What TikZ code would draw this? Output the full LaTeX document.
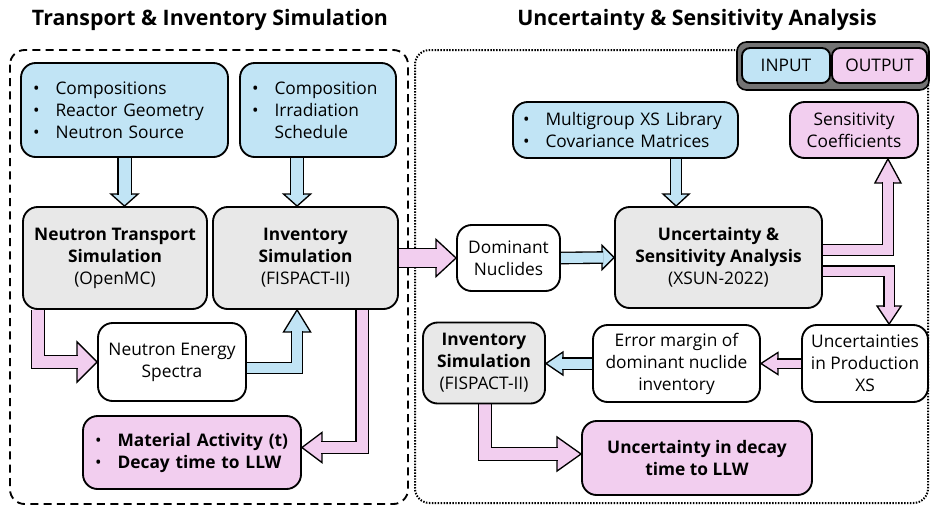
\documentclass[tikz,border=0pt]{standalone}
\usepackage{fontspec}
\setmainfont{Open Sans}
\usetikzlibrary{calc}
\newlength\px \setlength\px{0.75pt}
\definecolor{inblue}{HTML}{C1E4F5}
\definecolor{outpink}{HTML}{F2CEEF}
\definecolor{procgray}{HTML}{E8E8E8}
\definecolor{legendgray}{HTML}{737373}
\pgfdeclarelayer{frames}
\pgfdeclarelayer{arrows}
\pgfsetlayers{frames,arrows,main}
\newcommand\bl{\makebox[1.3em][l]{•}}
\newcommand\nb{\hspace*{1.3em}}
% arrow heads: #1 fill, #2 tip, #3 half width, #4 length
\newcommand\headdown[4]{\filldraw[head,fill=#1] (#2) -- ++(-#3,-#4) -- ++(2*#3,0) -- cycle;}
\newcommand\headup[4]{\filldraw[head,fill=#1] (#2) -- ++(-#3,#4) -- ++(2*#3,0) -- cycle;}
\newcommand\headright[4]{\filldraw[head,fill=#1] (#2) -- ++(-#4,-#3) -- ++(0,2*#3) -- cycle;}
\newcommand\headleft[4]{\filldraw[head,fill=#1] (#2) -- ++(#4,-#3) -- ++(0,2*#3) -- cycle;}
\begin{document}
\begin{tikzpicture}[x=0.75pt,y=-0.75pt,
  box/.style={draw=black, line width=1.4pt, rounded corners=11pt, align=center,
    inner sep=0pt, font=\fontsize{13}{16.5}\selectfont},
  inbox/.style={box, fill=inblue},
  outbox/.style={box, fill=outpink},
  procbox/.style={box, fill=procgray},
  plainbox/.style={box, fill=white},
  listbox/.style={align=left, inner xsep=12\px, text width=#1},
  head/.style={draw=black, line width=1pt, line join=miter},
  shaft/.style 2 args={draw=black, line width=1pt, double=#1, double distance=#2, line join=miter},
  title/.style={font=\bfseries\fontsize{16}{19}\selectfont},
  ]
\useasboundingbox (0,0) rectangle (930,508);

% section titles
\node[title] (t1) at (210,20) {Transport \& Inventory Simulation};
\node[title] (t2) at (697,20) {Uncertainty \& Sensitivity Analysis};

% section frames
\begin{pgfonlayer}{frames}
\draw[line width=1.4pt, dash pattern=on 6pt off 4pt, rounded corners=11pt] (10,50) rectangle (408,504);
\draw[line width=1.5pt, dash pattern=on 1.1pt off 1.1pt, rounded corners=11pt] (415,50) rectangle (928,503);
\end{pgfonlayer}

% legend
\draw[fill=legendgray, draw=black, line width=1.2pt, rounded corners=7pt] (737,42) rectangle (929,90);
\node[inbox, rounded corners=6pt, minimum width=88\px, minimum height=35\px] (lin) at (786,65.5) {INPUT};
\node[outbox, rounded corners=6pt, minimum width=95\px, minimum height=35\px] (lout) at (879.5,65.5) {OUTPUT};

% transport & inventory simulation
\node[inbox, listbox=183\px, minimum width=207\px, minimum height=94\px] (in1) at (124.5,110)
  {\bl Compositions\\ \bl Reactor Geometry\\ \bl Neutron Source};
\node[inbox, listbox=132\px, minimum width=156\px, minimum height=94\px] (in2) at (318,110)
  {\bl Composition\\ \bl Irradiation\\ \nb Schedule};
\node[procbox, minimum width=184\px, minimum height=102\px] (nts) at (115,258)
  {\textbf{Neutron Transport}\\ \textbf{Simulation}\\ (OpenMC)};
\node[procbox, minimum width=185\px, minimum height=102\px] (inv1) at (305.5,258)
  {\textbf{Inventory}\\ \textbf{Simulation}\\ (FISPACT-II)};
\node[plainbox, minimum width=148\px, minimum height=78\px] (nes) at (172,362)
  {Neutron Energy\\ Spectra};
\node[outbox, listbox=194\px, minimum width=218\px, minimum height=73\px] (mat) at (192,452.5)
  {\bl\textbf{Material Activity (t)}\\ \bl\textbf{Decay time to LLW}};

% uncertainty & sensitivity analysis
\node[plainbox, minimum width=103\px, minimum height=66\px] (dn) at (508.5,258)
  {Dominant\\ Nuclides};
\node[inbox, listbox=205\px, inner xsep=10\px, minimum width=225\px, minimum height=56\px] (mg) at (625.5,130)
  {\bl Multigroup XS Library\\ \bl Covariance Matrices};
\node[outbox, minimum width=128\px, minimum height=56\px] (sc) at (854,130)
  {Sensitivity\\ Coefficients};
\node[procbox, minimum width=207\px, minimum height=101\px] (usa) at (718.5,257.5)
  {\textbf{Uncertainty \&}\\ \textbf{Sensitivity Analysis}\\ (XSUN-2022)};
\node[plainbox, minimum width=126\px, minimum height=77\px] (unc) at (865,363.5)
  {Uncertainties\\ in Production\\ XS};
\node[plainbox, minimum width=167\px, minimum height=77\px] (err) at (676.5,363.5)
  {Error margin of\\ dominant nuclide\\ inventory};
\node[procbox, minimum width=122\px, minimum height=81\px] (inv2) at (484,363)
  {\textbf{Inventory}\\ \textbf{Simulation}\\ (FISPACT-II)};
\node[outbox, minimum width=230\px, minimum height=74\px] (ud) at (697,458)
  {\textbf{Uncertainty in decay}\\ \textbf{time to LLW}};

% block arrows
\begin{pgfonlayer}{arrows}
% inputs into the transport and inventory codes
\coordinate (a1) at (in1.south |- nts.north);
\headdown{inblue}{a1}{13.5}{12}
\draw[shaft={inblue}{12\px}] (in1.south) -- ($(a1)+(0,-11)$);
\coordinate (a2) at ($(in2.south west)+(58,0)$);
\coordinate (a2t) at (a2 |- inv1.north);
\headdown{inblue}{a2t}{13.5}{12}
\draw[shaft={inblue}{12\px}] (a2) -- ($(a2t)+(0,-11)$);
% transport -> spectra -> inventory
\coordinate (a3) at ($(nts.south west)+(16,0)$);
\headright{outpink}{nes.west}{20}{20}
\draw[shaft={outpink}{12\px}] (a3) |- ($(nes.west)+(-19,0)$);
\coordinate (a4) at ($(nes.east)+(0,6)$);
\coordinate (a4t) at ($(inv1.south west)+(85,0)$);
\headup{inblue}{a4t}{13.5}{22}
\draw[shaft={inblue}{10\px}] (a4) -| ($(a4t)+(0,21)$);
% inventory -> activity
\coordinate (a5) at ($(inv1.south west)+(150,0)$);
\coordinate (a5t) at ($(mat.east)+(0,-5)$);
\headleft{outpink}{a5t}{15}{20}
\draw[shaft={outpink}{11\px}] (a5) |- ($(a5t)+(19,0)$);
% inventory -> dominant nuclides -> analysis
\headright{outpink}{dn.west}{18.5}{20}
\draw[shaft={outpink}{18\px}] (inv1.east) -- ($(dn.west)+(-19,0)$);
\headright{inblue}{usa.west}{12}{12}
\draw[shaft={inblue}{10\px}] (dn.east) -- ($(usa.west)+(-11,0)$);
\coordinate (a8t) at ($(usa.north west)+(62,0)$);
\headdown{inblue}{a8t}{13}{12}
\draw[shaft={inblue}{10\px}] (a8t |- mg.south) -- ($(a8t)+(0,-11)$);
% analysis outputs
\coordinate (a9) at ($(usa.east)+(0,-7.5)$);
\coordinate (a9t) at ($(sc.south east)+(-31,0)$);
\headup{outpink}{a9t}{13}{24}
\draw[shaft={outpink}{10\px}] (a9) -| ($(a9t)+(0,23)$);
\coordinate (a10) at ($(usa.east)+(0,13.5)$);
\coordinate (a10t) at ($(unc.north west)+(88,0)$);
\headdown{outpink}{a10t}{12}{18}
\draw[shaft={outpink}{9\px}] (a10) -| ($(a10t)+(0,-17)$);
\headleft{outpink}{err.east}{11}{17}
\draw[shaft={outpink}{8\px}] (unc.west) -- ($(err.east)+(16,0)$);
\coordinate (a12t) at (err.west -| inv2.east);
\headleft{inblue}{a12t}{11.5}{17}
\draw[shaft={inblue}{10\px}] (err.west) -- ($(a12t)+(16,0)$);
\coordinate (a13) at ($(inv2.south west)+(63,0)$);
\coordinate (a13t) at ($(ud.west)+(0,-4)$);
\headright{outpink}{a13t}{17}{24}
\draw[shaft={outpink}{12\px}] (a13) |- ($(a13t)+(-23,0)$);
\end{pgfonlayer}
\end{tikzpicture}
\end{document}
